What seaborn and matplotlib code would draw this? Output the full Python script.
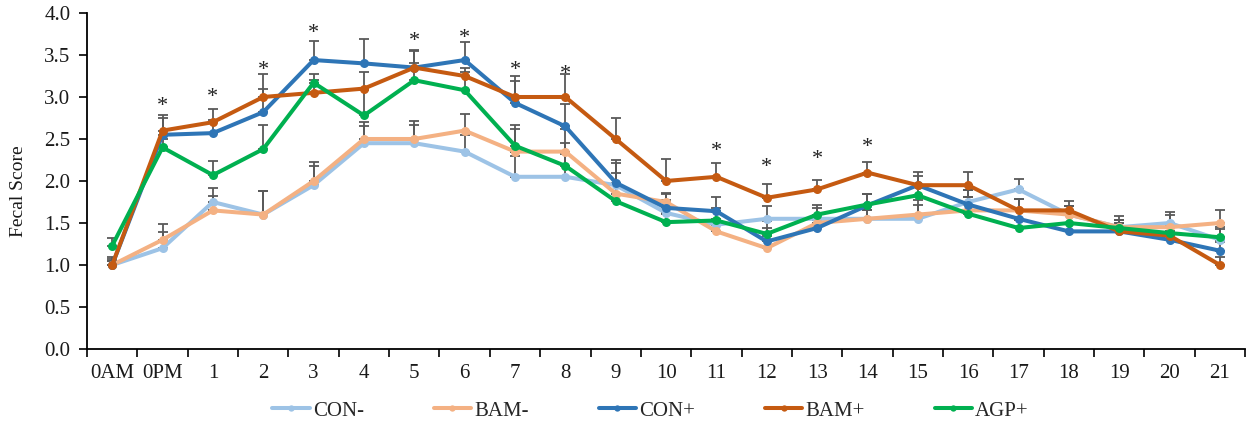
import numpy as np
import pandas as pd
import matplotlib
matplotlib.use("Agg")
import matplotlib.pyplot as plt
import seaborn as sns

# Sampling times
times = ["0AM", "0PM", "1", "2", "3", "4", "5", "6", "7", "8", "9", "10",
         "11", "12", "13", "14", "15", "16", "17", "18", "19", "20", "21"]

groups = ["CON-", "BAM-", "CON+", "BAM+", "AGP+"]

# Mean fecal scores per group
con_neg = [1.00, 1.20, 1.75, 1.60, 1.95, 2.45, 2.45, 2.35, 2.05, 2.05, 1.95, 1.62,
           1.48, 1.55, 1.55, 1.55, 1.55, 1.75, 1.90, 1.60, 1.45, 1.50, 1.30]
bam_neg = [1.00, 1.30, 1.65, 1.60, 2.00, 2.50, 2.50, 2.60, 2.35, 2.35, 1.85, 1.75,
           1.40, 1.20, 1.50, 1.55, 1.60, 1.65, 1.65, 1.60, 1.45, 1.45, 1.50]
con_pos = [1.00, 2.55, 2.57, 2.82, 3.44, 3.40, 3.35, 3.44, 2.93, 2.65, 1.98, 1.68,
           1.64, 1.28, 1.44, 1.71, 1.95, 1.72, 1.55, 1.40, 1.40, 1.30, 1.17]
bam_pos = [1.00, 2.60, 2.70, 3.00, 3.05, 3.10, 3.35, 3.25, 3.00, 3.00, 2.50, 2.00,
           2.05, 1.80, 1.90, 2.10, 1.95, 1.95, 1.65, 1.65, 1.40, 1.35, 1.00]
agp_pos = [1.23, 2.40, 2.07, 2.38, 3.17, 2.78, 3.20, 3.08, 2.42, 2.18, 1.76, 1.51,
           1.53, 1.37, 1.60, 1.72, 1.83, 1.61, 1.44, 1.50, 1.44, 1.38, 1.33]

# Standard errors (upper bars only)
con_neg_se = [0.09, 0.19, 0.17, 0.28, 0.23, 0.20, 0.22, 0.20, 0.25, 0.27, 0.26, 0.15,
              0.15, 0.15, 0.13, 0.10, 0.16, 0.14, 0.12, 0.10, 0.13, 0.13, 0.15]
bam_neg_se = [0.07, 0.19, 0.17, 0.28, 0.23, 0.20, 0.21, 0.20, 0.27, 0.27, 0.25, 0.10,
              0.15, 0.15, 0.10, 0.10, 0.17, 0.16, 0.13, 0.10, 0.09, 0.15, 0.16]
con_pos_se = [0.05, 0.20, 0.16, 0.27, 0.23, 0.29, 0.20, 0.21, 0.26, 0.27, 0.27, 0.18,
              0.17, 0.16, 0.10, 0.13, 0.11, 0.17, 0.10, 0.10, 0.10, 0.10, 0.10]
bam_pos_se = [0.05, 0.19, 0.16, 0.27, 0.15, 0.20, 0.21, 0.10, 0.25, 0.27, 0.25, 0.26,
              0.17, 0.16, 0.11, 0.13, 0.16, 0.16, 0.13, 0.11, 0.10, 0.10, 0.10]
agp_pos_se = [0.09, 0.10, 0.17, 0.29, 0.10, 0.30, 0.20, 0.22, 0.25, 0.27, 0.20, 0.10,
              0.15, 0.15, 0.11, 0.13, 0.10, 0.20, 0.10, 0.10, 0.10, 0.10, 0.10]

# Significance markers: time label and height of the asterisk
sig_times = ["0PM", "1", "2", "3", "5", "6", "7", "8", "11", "12", "13", "14"]
sig_heights = [2.89, 2.99, 3.32, 3.76, 3.66, 3.70, 3.32, 3.27, 2.35, 2.16, 2.26, 2.40]

colors = {"CON-": "#9DC3E6", "BAM-": "#F4B183", "CON+": "#2E75B6",
          "BAM+": "#C55A11", "AGP+": "#00B050"}

means = {"CON-": con_neg, "BAM-": bam_neg, "CON+": con_pos,
         "BAM+": bam_pos, "AGP+": agp_pos}
errs = {"CON-": con_neg_se, "BAM-": bam_neg_se, "CON+": con_pos_se,
        "BAM+": bam_pos_se, "AGP+": agp_pos_se}

rows = []
for g in groups:
    for i, (t, v, e) in enumerate(zip(times, means[g], errs[g])):
        rows.append({"pos": i, "time": t, "group": g, "score": v, "se": e})
df = pd.DataFrame(rows)

sns.set_theme(style="white")
plt.rcParams["font.family"] = ["Liberation Serif", "DejaVu Serif"]

fig = plt.figure(figsize=(12.52, 4.29), dpi=100)
ax = fig.add_axes([0.0695, 0.1865, 0.925, 0.7832])

# Upper error bars
for g in groups:
    sub = df[df["group"] == g]
    ax.errorbar(sub["pos"], sub["score"],
                yerr=[np.zeros(len(sub)), sub["se"]],
                fmt="none", ecolor="#595959", elinewidth=1.3,
                capsize=3.5, capthick=1.3, zorder=1.5)

sns.lineplot(data=df, x="pos", y="score", hue="group", hue_order=groups,
             palette=colors, marker="o", markersize=6.5, markeredgewidth=0,
             linewidth=2.9, sort=False, ax=ax, zorder=2)

# Asterisks
for t, h in zip(sig_times, sig_heights):
    ax.text(times.index(t), h, "*", ha="center", va="center",
            fontsize=16, color="#222222", zorder=4)

ax.set_xlim(-0.5, len(times) - 0.5)
ax.set_ylim(0, 4.0)
ax.set_yticks(np.arange(0, 4.01, 0.5))
ax.set_yticklabels([f"{v:.1f}" for v in np.arange(0, 4.01, 0.5)])
ax.set_xticks(range(len(times)))
ax.set_xticklabels(times)
ax.set_xticks(np.arange(-0.5, len(times), 1.0), minor=True)
ax.tick_params(axis="x", which="major", length=0, pad=11, labelsize=15,
               colors="#1a1a1a")
ax.tick_params(axis="x", which="minor", length=6, width=1.2, direction="out",
               color="black", bottom=True)
ax.tick_params(axis="y", length=6, width=1.2, direction="out", left=True,
               labelsize=15, color="black", labelcolor="#1a1a1a", pad=6)

ax.set_xlabel("")
ax.set_ylabel("Fecal Score", fontsize=14, color="#1a1a1a")
ax.yaxis.set_label_coords(-0.052, 0.47)

for side in ["top", "right"]:
    ax.spines[side].set_visible(False)
for side in ["left", "bottom"]:
    ax.spines[side].set_color("black")
    ax.spines[side].set_linewidth(1.3)

handles, labels = ax.get_legend_handles_labels()
ax.legend(handles, labels, loc="center", bbox_to_anchor=(0.5196, 0.042),
          bbox_transform=fig.transFigure, ncol=5, frameon=False,
          fontsize=15, handlelength=1.8, handletextpad=0.15,
          columnspacing=3.35, markerscale=0.7)

fig.savefig("out.png", dpi=100)
